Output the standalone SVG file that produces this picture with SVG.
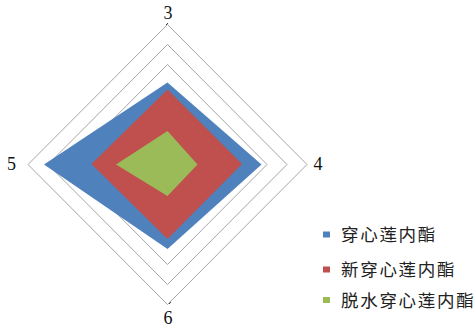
<svg xmlns="http://www.w3.org/2000/svg" width="476" height="328" viewBox="0 0 476 328">
<style>
.ring{fill:none;stroke:#a6a6a6;stroke-width:1}
.ax{font-family:"Liberation Serif",serif;font-size:18px;fill:#111;text-anchor:middle}
.lg{font-family:"Noto Sans CJK SC",sans-serif;font-size:17.5px;fill:#222;letter-spacing:1.7px}
.tick{stroke:#444;stroke-width:1}
</style>
<rect width="476" height="328" fill="#ffffff"/>
<g id="grid">
<polygon class="ring" points="167.5,24.5 307,164.5 167.5,304.5 28,164.5"/>
<polygon class="ring" points="167.5,44.5 287,164.5 167.5,284.5 48,164.5"/>
<polygon class="ring" points="167.5,64.5 267,164.5 167.5,264.5 68,164.5"/>
<line class="tick" x1="166" y1="25" x2="168" y2="23"/>
<line class="tick" x1="169" y1="304" x2="171" y2="302"/>
</g>
<g id="series-blue"><polygon fill="#4f81bd" points="167.5,82.5 261.5,164.5 167.5,249 44,164.5"/></g>
<g id="series-red"><polygon fill="#c0504d" points="167.5,89.5 242,164 167.5,239 91.5,164"/></g>
<g id="series-green"><polygon fill="#9bbb59" points="167.5,131 197.5,164.5 167.5,196 116,164.5"/></g>
<g id="axis-labels">
<text class="ax" x="168" y="18.5">3</text>
<text class="ax" x="318" y="169.5">4</text>
<text class="ax" x="11.5" y="170">5</text>
<text class="ax" x="168" y="324">6</text>
</g>
<g id="legend">
<rect x="323" y="231.5" width="7" height="6" fill="#4f81bd"/>
<text class="lg" x="341" y="241">穿心莲内酯</text>
<rect x="323" y="266.5" width="7" height="6" fill="#c0504d"/>
<text class="lg" x="341" y="276">新穿心莲内酯</text>
<rect x="323" y="297" width="7" height="6" fill="#9bbb59"/>
<text class="lg" x="341" y="306.5">脱水穿心莲内酯</text>
</g>
</svg>
